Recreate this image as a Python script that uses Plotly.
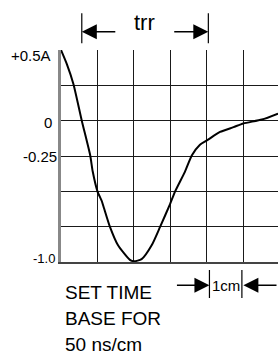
import plotly.graph_objects as go

# ---- data (time in cm divisions, current in A) ----
time_cm = [0.0, 0.16, 0.34, 0.57, 0.80, 0.87, 1.0, 1.12, 1.18, 1.34, 1.56, 1.89, 2.0,
           2.21, 2.49, 2.72, 2.99, 3.13, 3.40, 3.59, 3.81, 4.0, 4.36, 4.73, 5.0, 5.51, 5.95]
current_a = [0.5, 0.40, 0.26, 0.0, -0.245, -0.36, -0.5, -0.57, -0.62, -0.75, -0.88, -0.985, -0.995,
             -0.98, -0.88, -0.75, -0.59, -0.5, -0.36, -0.245, -0.17, -0.14, -0.08, -0.046, -0.02, 0.008, 0.05]

y_tick_values = [0.5, 0.0, -0.25, -1.0]
y_tick_labels = ["+0.5A", "0", "-0.25", "-1.0"]

trr_start = 0.57
trr_end = 4.04
cm_left = 4.07
cm_right = 4.96

FONT = "Liberation Sans, Arial, Helvetica, sans-serif"
W, H = 278, 356
L, T, B = 61, 50, 94
PH = H - T - B  # plot height px


def py2paper(py):
    return (H - B - py) / PH


fig = go.Figure()
fig.add_trace(go.Scatter(
    x=time_cm, y=current_a, mode="lines",
    line=dict(color="black", width=2, shape="spline", smoothing=0.6),
    hoverinfo="skip", showlegend=False,
))

grid_col = "#1a1a1a"
fig.update_xaxes(range=[0, 5.95], dtick=1, tick0=0, showgrid=True, gridcolor=grid_col,
                 gridwidth=1, zeroline=False, showticklabels=False, ticks="",
                 showline=True, linecolor="#444", linewidth=1.5)
fig.update_yaxes(range=[-1.0, 0.5], dtick=0.25, tick0=0, showgrid=True, gridcolor=grid_col,
                 gridwidth=1, zeroline=True, zerolinecolor=grid_col, zerolinewidth=1,
                 showticklabels=False, ticks="",
                 showline=True, linecolor="#888", linewidth=2.5)

annotations = []
# y labels
label_style = [
    dict(xshift=53.3 - L, yshift=-5.5, size=15),
    dict(xshift=53.5 - L, yshift=-1.5, size=15),
    dict(xshift=59.3 - L, yshift=-0.5, size=15),
    dict(xshift=56.7 - L, yshift=3.5, size=13),
]
for v, t, st in zip(y_tick_values, y_tick_labels, label_style):
    annotations.append(dict(x=0, xref="paper", y=v, yref="y", text=t, showarrow=False,
                            xanchor="right", yanchor="middle", xshift=st["xshift"],
                            yshift=st["yshift"], font=dict(family=FONT, size=st["size"], color="black")))

# trr label and arrows
annotations.append(dict(x=(trr_start + trr_end) / 2 - 0.02, xref="x", y=py2paper(22.5), yref="paper",
                        text="trr", showarrow=False, xanchor="center", yanchor="middle",
                        font=dict(family=FONT, size=22, color="black")))
arrow_y_top = py2paper(31.7)
for xh, ax in [(trr_start, 35), (trr_end, -35.6)]:
    annotations.append(dict(x=xh, xref="x", y=arrow_y_top, yref="paper", text="",
                            showarrow=True, ax=ax, ay=0, axref="pixel", ayref="pixel",
                            arrowhead=2, arrowsize=2, arrowwidth=1.5, arrowcolor="black",
                            standoff=0))
# 1cm label and arrows
arrow_y_bot = py2paper(285.3)
annotations.append(dict(x=(cm_left + cm_right) / 2, xref="x", y=arrow_y_bot, yref="paper",
                        text="1cm", showarrow=False, xanchor="center", yanchor="middle",
                        font=dict(family=FONT, size=15, color="black")))
for xh, ax in [(cm_left, -34), (cm_right + 0.04, 40)]:
    annotations.append(dict(x=xh, xref="x", y=arrow_y_bot, yref="paper", text="",
                            showarrow=True, ax=ax, ay=0, axref="pixel", ayref="pixel",
                            arrowhead=2, arrowsize=2, arrowwidth=1.5, arrowcolor="black",
                            standoff=0))
# bottom text
for line, pyc in [("SET TIME", 292), ("BASE FOR", 318), ("50 ns/cm", 344)]:
    annotations.append(dict(x=0, xref="paper", y=py2paper(pyc), yref="paper", text=line,
                            showarrow=False, xanchor="left", yanchor="middle", xshift=2,
                            font=dict(family=FONT, size=19, color="black")))

shapes = []
for xv in [trr_start, trr_end]:
    shapes.append(dict(type="line", xref="x", yref="paper", x0=xv, x1=xv,
                       y0=py2paper(13.3), y1=py2paper(43.3), line=dict(color="black", width=1.2)))
for xv in [cm_left, cm_right]:
    shapes.append(dict(type="line", xref="x", yref="paper", x0=xv, x1=xv,
                       y0=py2paper(270), y1=py2paper(298), line=dict(color="black", width=1.2)))

fig.update_layout(
    width=W, height=H, margin=dict(l=L, r=0, t=T, b=B, pad=0, autoexpand=False),
    paper_bgcolor="white", plot_bgcolor="white",
    annotations=annotations, shapes=shapes, showlegend=False,
)
fig.write_html("out.html", config={"displayModeBar": False},
               post_script="document.body.style.margin='0';document.body.style.overflow='hidden';")
